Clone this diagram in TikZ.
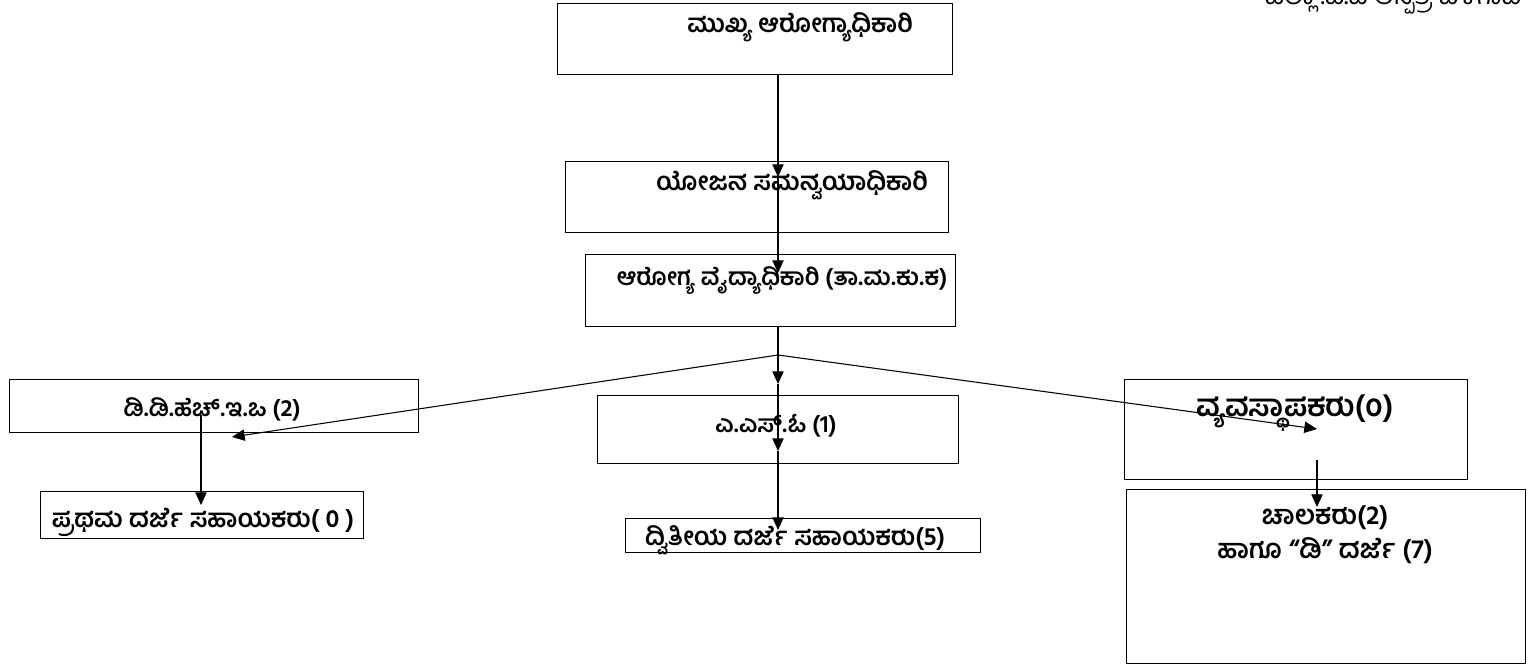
\documentclass[tikz,border=0pt]{standalone}
\usepackage{fontspec}
\newfontfamily\kn[Script=Kannada]{Hind Mysuru}
\usetikzlibrary{arrows.meta}
\begin{document}
\begin{tikzpicture}[x=0.75pt,y=-0.75pt,
  box/.style={draw, line width=0.95pt, inner sep=0pt, anchor=north west},
  lbl/.style={inner sep=0pt, yshift=-2pt, font=\kn\bfseries\fontsize{19}{22}\selectfont},
  conn/.style={line width=0.8pt},
  arr/.style={line width=0.8pt, -{Triangle[length=9.5pt,width=8.5pt]}}]
\useasboundingbox (0,0) rectangle (1529,665);
% boxes
\node[box, minimum width=296.25pt, minimum height=53.25pt] (b1) at (557,3) {};
\node[box, minimum width=287.25pt, minimum height=53.25pt] (b2) at (565,161) {};
\node[box, minimum width=277.5pt, minimum height=54pt] (b3) at (585,254) {};
\node[box, minimum width=306.75pt, minimum height=39.75pt] (bl) at (9,379) {};
\node[box, minimum width=270.75pt, minimum height=51pt] (bm) at (597,395) {};
\node[box, minimum width=257.25pt, minimum height=75pt] (br) at (1124,379) {};
\node[box, minimum width=242.25pt, minimum height=35.25pt] (bp) at (40,491) {};
\node[box, minimum width=266.25pt, minimum height=25.5pt] (bd) at (625,518) {};
\node[box, minimum width=299.25pt, minimum height=130.5pt] (bc) at (1126,489) {};
% texts
\node[lbl] (t1) at (800,25) {ಮುಖ್ಯ ಆರೋಗ್ಯಾಧಿಕಾರಿ};
\node[lbl] (t2) at (792,183) {ಯೋಜನ ಸಮನ್ವಯಾಧಿಕಾರಿ};
\node[lbl, font=\kn\bfseries\fontsize{18}{22}\selectfont] (t3) at (782,278) {ಆರೋಗ್ಯ ವೈದ್ಯಾಧಿಕಾರಿ (ತಾ.ಮ.ಕು.ಕ)};
\node[lbl, font=\kn\bfseries\fontsize{18}{22}\selectfont] (tl) at (212,407) {ಡಿ.ಡಿ.ಹೆಚ್.ಇ.ಒ (2)};
\node[lbl, font=\kn\bfseries\fontsize{18}{22}\selectfont] (tm) at (776,423) {ಎ.ಎಸ್.ಓ (1)};
\node[lbl, font=\kn\bfseries\fontsize{23}{26}\selectfont] (tr) at (1295,410) {ವ್ಯವಸ್ಥಾಪಕರು(೦)};
\node[lbl] (tp) at (203,520) {ಪ್ರಥಮ ದರ್ಜೆ ಸಹಾಯಕರು( 0 )};
\node[lbl] (td) at (795,538) {ದ್ವಿತೀಯ ದರ್ಜೆ ಸಹಾಯಕರು(5)};
\node[lbl, align=center, font=\kn\bfseries\fontsize{20}{25.5}\selectfont] (tc) at (1325,532) {ಚಾಲಕರು(2)\\ಹಾಗೂ “ಡಿ” ದರ್ಜೆ (7)};
\node[inner sep=0pt, anchor=base, font=\kn\fontsize{20}{24}\selectfont] (top) at (1393,4) {ಜಿಲ್ಲಾ .ಪ.ಪ ಆಸ್ಪತ್ರೆ ಬೆಳಗಾವಿ};
% connector points
\coordinate (a1) at (778,177);
\coordinate (a2) at (778,273);
\coordinate (j) at (778,355);
\coordinate (am1) at (778,384);
\coordinate (am2) at (778,451);
\coordinate (am3) at (778,530);
\coordinate (al) at (232,437);
\coordinate (ar) at (1317,429);
\coordinate (ls) at (201,415);
\coordinate (lt) at (201,505);
\coordinate (rs) at (1317,460);
\coordinate (rt) at (1317,507);
% connectors
\draw[arr] (b1.south -| a1) -- (a1);
\draw[arr] (a1) -- (a2);
\draw[conn] (b3.south -| j) -- (j);
\draw[arr] (j) -- (am1);
\draw[arr] (am1) -- (am2);
\draw[arr] (am2) -- (am3);
\draw[arr] (j) -- (al);
\draw[arr] (j) -- (ar);
\draw[arr] (ls) -- (lt);
\draw[arr] (rs) -- (rt);
\end{tikzpicture}
\end{document}
